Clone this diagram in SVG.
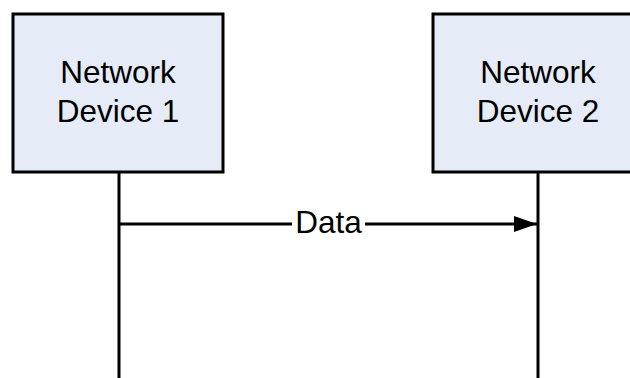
<svg xmlns="http://www.w3.org/2000/svg" width="630" height="378" viewBox="0 0 630 378">
<style>
.box{fill:#e6ecf7;stroke:#000;stroke-width:3}
.life{stroke:#000;stroke-width:3;fill:none}
.t{font-family:"Liberation Sans",Arial,sans-serif;font-size:31.5px;fill:#000;text-anchor:middle}
</style>
<defs>
<marker id="ah" markerUnits="userSpaceOnUse" markerWidth="24" markerHeight="18" refX="23" refY="9" orient="auto">
<path d="M0,1 L23,9 L0,17 Z" fill="#000"/>
</marker>
</defs>
<rect width="630" height="378" fill="#fff"/>
<g id="connectors">
<line class="life" x1="119" y1="172" x2="119" y2="378"/>
<line class="life" x1="538" y1="172" x2="538" y2="378"/>
<line class="life" x1="119" y1="224" x2="292" y2="224"/>
<line class="life" x1="365" y1="224" x2="537" y2="224" marker-end="url(#ah)"/>
<text class="t" x="328.5" y="233">Data</text>
</g>
<g id="device1">
<rect class="box" x="13" y="14" width="210" height="158"/>
<text class="t" x="118" y="83">Network</text>
<text class="t" x="118" y="122">Device 1</text>
</g>
<g id="device2">
<rect class="box" x="433" y="14" width="210" height="158"/>
<text class="t" x="538" y="83">Network</text>
<text class="t" x="538" y="122">Device 2</text>
</g>
</svg>
